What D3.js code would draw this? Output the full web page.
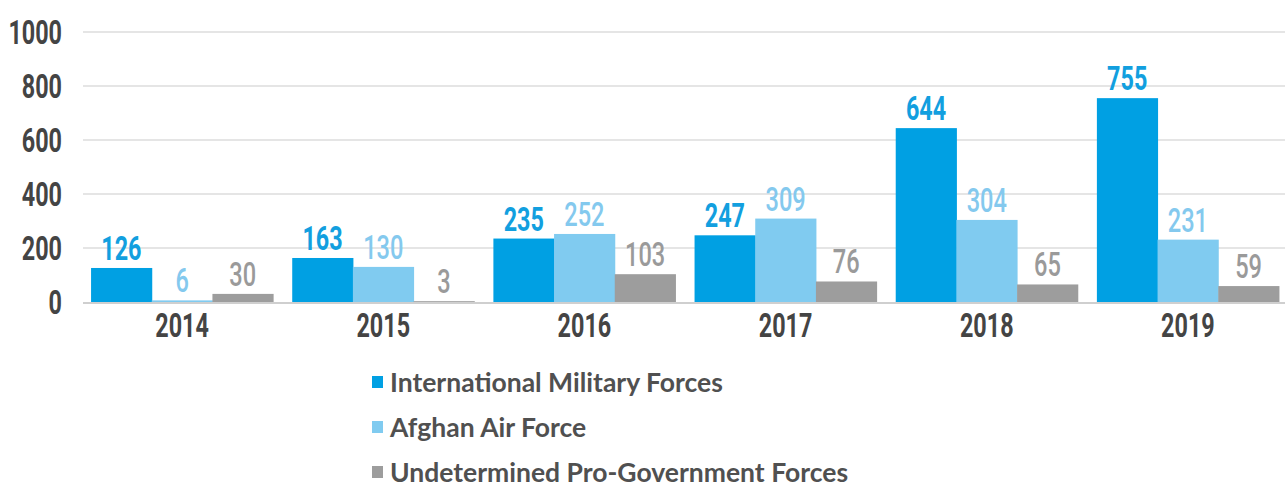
<!DOCTYPE html>
<html><head><meta charset="utf-8">
<script src="https://cdn.jsdelivr.net/npm/d3@7"></script>
<style>
body{margin:0;background:#fff;}
svg{display:block;}
</style></head>
<body>
<svg id="c" width="1285" height="489"></svg>
<script>
const years = ["2014","2015","2016","2017","2018","2019"];
const seriesNames = ["International Military Forces","Afghan Air Force","Undetermined Pro-Government Forces"];
const imf = [126,163,235,247,644,755];
const aaf = [6,130,252,309,304,231];
const upgf = [30,3,103,76,65,59];
const yTicks = [0,200,400,600,800,1000];

const seriesValues = [imf, aaf, upgf];
const barColors = ["#00a0e3","#80cbf0","#9d9d9d"];
const labelColors = ["#129fdf","#84c9ee","#9a9a9a"];
const labelWeights = ["bold","500","500"];

const svg = d3.select("#c");
const numFont = "Roboto, sans-serif";
const digitW = 13.4;
function condense(sel){
  sel.attr("textLength", function(){ return this.textContent.length*digitW; })
     .attr("lengthAdjust","spacingAndGlyphs");
}

const x = d3.scaleBand().domain(years).range([81,1289]).paddingInner(0.095).paddingOuter(0.05);
const xs = d3.scaleBand().domain(d3.range(3)).range([0, x.bandwidth()]);
const y = d3.scaleLinear().domain([0,1000]).range([302,32]);

// gridlines
svg.append("g").selectAll("line").data(yTicks.filter(d=>d>0)).join("line")
  .attr("x1",83).attr("x2",1285).attr("y1",d=>y(d)).attr("y2",d=>y(d))
  .attr("stroke","#dcdcdc").attr("stroke-width",1.5);

// y axis
const yAxis = svg.append("g").attr("transform","translate(62,0)")
  .call(d3.axisLeft(y).tickValues(yTicks).tickFormat(d3.format("d")).tickSize(0).tickPadding(0));
yAxis.select(".domain").remove();
yAxis.selectAll("text").attr("font-family",numFont).attr("font-weight","bold")
  .attr("font-size",33).attr("fill","#444").attr("dy","0.36em").call(condense);

// bars
const groups = svg.append("g").selectAll("g").data(years).join("g")
  .attr("transform",d=>`translate(${x(d)},0)`);
groups.each(function(yr,i){
  const g = d3.select(this);
  seriesValues.forEach((vals,s)=>{
    g.append("rect").attr("x",xs(s)).attr("width",xs.bandwidth()+0.5)
      .attr("y",y(vals[i])).attr("height",y(0)-y(vals[i])).attr("fill",barColors[s]);
    g.append("text").attr("x",xs(s)+xs.bandwidth()/2).attr("y",y(vals[i])-8)
      .attr("text-anchor","middle").attr("font-family",numFont)
      .attr("font-weight",labelWeights[s]).attr("font-size",33)
      .attr("fill",labelColors[s]).text(vals[i]).call(condense);
  });
});

// baseline
svg.append("line").attr("x1",83).attr("x2",1285).attr("y1",303).attr("y2",303)
  .attr("stroke","#cfcfcf").attr("stroke-width",2);

// x axis
const xAxis = svg.append("g").attr("transform","translate(0,304)")
  .call(d3.axisBottom(x).tickSize(0).tickPadding(0));
xAxis.select(".domain").remove();
xAxis.selectAll("text").attr("font-family",numFont).attr("font-weight","bold")
  .attr("font-size",33).attr("fill","#444").attr("dy","1.0em").call(condense);

// legend
const leg = svg.append("g").selectAll("g").data(seriesNames).join("g")
  .attr("transform",(d,i)=>`translate(372,${382+i*45})`);
leg.append("rect").attr("x",0).attr("y",-6).attr("width",11).attr("height",12)
  .attr("fill",(d,i)=>barColors[i]);
leg.append("text").attr("x",18).attr("y",0).attr("dy","0.36em")
  .attr("font-family","Lato, sans-serif").attr("font-weight",700)
  .attr("font-size",26.5).attr("fill","#505050").text(d=>d);
</script>
</body></html>
